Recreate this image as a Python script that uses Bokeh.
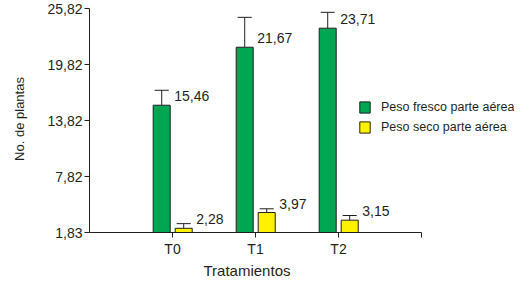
from bokeh.plotting import figure
from bokeh.models import Range1d, FixedTicker, Legend, LegendItem, ColumnDataSource, Title
from bokeh.core.properties import value
from bokeh.embed import file_html
from bokeh.resources import INLINE

# ---- data ----
categories = ["T0", "T1", "T2"]
fresco = [15.46, 21.67, 23.71]
fresco_err = [1.6, 3.2, 1.7]
seco = [2.28, 3.97, 3.15]
seco_err = [0.5, 0.4, 0.5]
y_ticks = [1.83, 7.82, 13.82, 19.82, 25.82]
series_names = ["Peso fresco parte aérea", "Peso seco parte aérea"]
x_title = "Tratamientos"
y_title = "No. de plantas"

# ---- style ----
FONT = "Liberation Sans"
FONT_V = value(FONT)
INK = "#231f20"
GREEN = "#00a651"
YELLOW = "#fff200"
BASE = y_ticks[0]
BAR_W = 0.205
OFF_G = -0.13
OFF_Y = 0.135
CAP = 0.17
X_END = 4  # end of drawn x axis

xs = [i + 1 for i in range(len(categories))]

p = figure(frame_width=425, frame_height=227, output_backend="svg", toolbar_location=None,
           x_range=Range1d(0, 425 / 83), y_range=Range1d(BASE, 26.14),
           min_border_left=89, min_border_right=0, min_border_top=5, min_border_bottom=0)
p.outline_line_color = None
p.grid.visible = False
p.background_fill_color = "white"

def fmt(v):
    return f"{v:.2f}".replace(".", ",")

def series(vals, errs, off, color):
    x = [xi + off for xi in xs]
    src = ColumnDataSource(dict(x=x, top=vals, err=[v + e for v, e in zip(vals, errs)],
                                lab=[fmt(v) for v in vals],
                                cl=[xi - CAP / 2 for xi in x], cr=[xi + CAP / 2 for xi in x],
                                lx=[xi + BAR_W / 2 for xi in x]))
    p.segment(x0="x", y0="top", x1="x", y1="err", source=src, line_color=INK, line_width=1)
    p.segment(x0="cl", y0="err", x1="cr", y1="err", source=src, line_color=INK, line_width=1)
    r = p.vbar(x="x", top="top", bottom=BASE, width=BAR_W, source=src,
               fill_color=color, line_color=INK, line_width=1)
    p.text(x="lx", y="top", text="lab", source=src, x_offset=4, y_offset=-9,
           text_baseline="middle", text_align="left", text_font=FONT_V,
           text_font_size="14px", text_color=INK)
    return r

r1 = series(fresco, fresco_err, OFF_G, GREEN)
r2 = series(seco, seco_err, OFF_Y, YELLOW)

# axes
xa = p.xaxis[0]
xa.ticker = FixedTicker(ticks=xs + [X_END])
xa.major_label_overrides = {**{xi: c for xi, c in zip(xs, categories)}, X_END: ""}
xa.bounds = (0, X_END)
xa.minor_tick_line_color = None
xa.major_tick_in = 0
xa.major_tick_out = 5
xa.major_label_standoff = 3
xa.major_label_text_font = FONT
xa.major_label_text_font_size = "14px"
xa.major_label_text_color = INK
xa.axis_line_color = INK
xa.major_tick_line_color = INK

# x axis title placed under the drawn axis (the frame is wider to hold the legend)
p.add_layout(Title(text=x_title, align="left", offset=114, standoff=0,
                   text_font=FONT, text_font_size="15px", text_font_style="normal",
                   text_color=INK), "below")

ya = p.yaxis[0]
ya.ticker = FixedTicker(ticks=y_ticks)
ya.major_label_overrides = {t: fmt(t) for t in y_ticks}
ya.bounds = (y_ticks[0], y_ticks[-1])
ya.minor_tick_line_color = None
ya.major_tick_in = 0
ya.major_tick_out = 5
ya.major_label_standoff = 2
ya.axis_label = y_title
ya.axis_label_standoff = 17
ya.axis_label_text_font_style = "normal"
ya.axis_label_text_font = FONT
ya.axis_label_text_font_size = "13px"
ya.axis_label_text_color = INK
ya.major_label_text_font = FONT
ya.major_label_text_font_size = "14px"
ya.major_label_text_color = INK
ya.axis_line_color = INK
ya.major_tick_line_color = INK

legend = Legend(items=[LegendItem(label=series_names[0], renderers=[r1]),
                       LegendItem(label=series_names[1], renderers=[r2])],
                location=(269, 98), orientation="vertical",
                glyph_width=13, glyph_height=14, label_height=14, spacing=6,
                label_standoff=10, padding=0, margin=0,
                border_line_color=None, background_fill_alpha=0,
                label_text_font=FONT, label_text_font_size="12.5px", label_text_color=INK)
p.add_layout(legend, "center")

open("out.html", "w").write(file_html(p, INLINE))
